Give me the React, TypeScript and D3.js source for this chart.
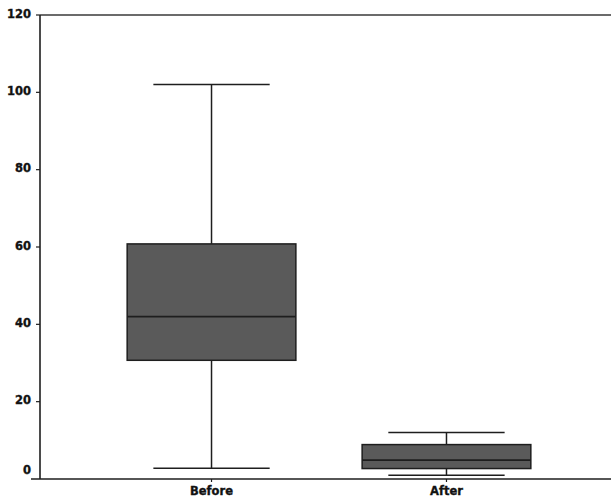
import React from "react";
import * as d3 from "d3";

const categories = ["Before", "After"];
const whiskerLow = [2.8, 1.0];
const q1 = [30.7, 2.7];
const median = [42, 4.9];
const q3 = [60.8, 8.9];
const whiskerHigh = [102, 12];
const yTicks = [0, 20, 40, 60, 80, 100, 120];

const W = 611;
const H = 501;
const left = 40;
const top = 15;
const bottom = 479;

export default function App() {
  const x = d3.scalePoint<string>().domain(categories).range([left, 618]).padding(0.73);
  const y = d3.scaleLinear().domain([0, 120]).range([bottom, top]);
  const step = x.step();
  const boxW = step * 0.718;
  const capW = step * 0.495;
  const font = "'DejaVu Sans', Verdana, sans-serif";
  const ink = "#1e1e1e";

  return (
    <div style={{ position: "absolute", left: 0, top: 0 }}>
      <svg width={W} height={H} style={{ display: "block", background: "#fff" }}>
        <line x1={left} x2={W} y1={top} y2={top} stroke="#3a3a3a" strokeWidth={1.6} />
        <line x1={left} x2={left} y1={top} y2={bottom} stroke={ink} strokeWidth={1.6} />
        <line x1={31} x2={W} y1={bottom} y2={bottom} stroke={ink} strokeWidth={1.6} />
        {yTicks.map((t) => (
          <g key={t}>
            {t !== 0 && (
              <line x1={left - 4} x2={left} y1={y(t)} y2={y(t)} stroke={ink} strokeWidth={1.2} />
            )}
            <text
              x={31}
              y={t === 0 ? y(t) - 9 : y(t) - 1}
              textAnchor="end"
              dominantBaseline="middle"
              fontFamily={font}
              fontWeight="bold"
              fontSize={11.5}
              fill="#111"
              stroke="#111"
              strokeWidth={0.35}
            >
              {t}
            </text>
          </g>
        ))}
        {categories.map((c, i) => {
          const cx = x(c)!;
          return (
            <g key={c}>
              <line x1={cx} x2={cx} y1={y(whiskerHigh[i])} y2={y(q3[i])} stroke={ink} strokeWidth={1.5} />
              <line x1={cx} x2={cx} y1={y(q1[i])} y2={y(whiskerLow[i])} stroke={ink} strokeWidth={1.5} />
              <line x1={cx - capW / 2} x2={cx + capW / 2} y1={y(whiskerHigh[i])} y2={y(whiskerHigh[i])} stroke={ink} strokeWidth={1.5} />
              <line x1={cx - capW / 2} x2={cx + capW / 2} y1={y(whiskerLow[i])} y2={y(whiskerLow[i])} stroke={ink} strokeWidth={1.5} />
              <rect
                x={cx - boxW / 2}
                y={y(q3[i])}
                width={boxW}
                height={y(q1[i]) - y(q3[i])}
                fill="#5a5a5a"
                stroke={ink}
                strokeWidth={1.5}
              />
              <line x1={cx - boxW / 2} x2={cx + boxW / 2} y1={y(median[i])} y2={y(median[i])} stroke={ink} strokeWidth={1.8} />
              <line x1={cx} x2={cx} y1={bottom} y2={bottom + 3} stroke={ink} strokeWidth={1.2} />
              <text
                x={cx}
                y={491}
                textAnchor="middle"
                dominantBaseline="middle"
                fontFamily={font}
                fontWeight="bold"
                fontSize={11.5}
                fill="#111"
                stroke="#111"
                strokeWidth={0.35}
              >
                {c}
              </text>
            </g>
          );
        })}
      </svg>
    </div>
  );
}
